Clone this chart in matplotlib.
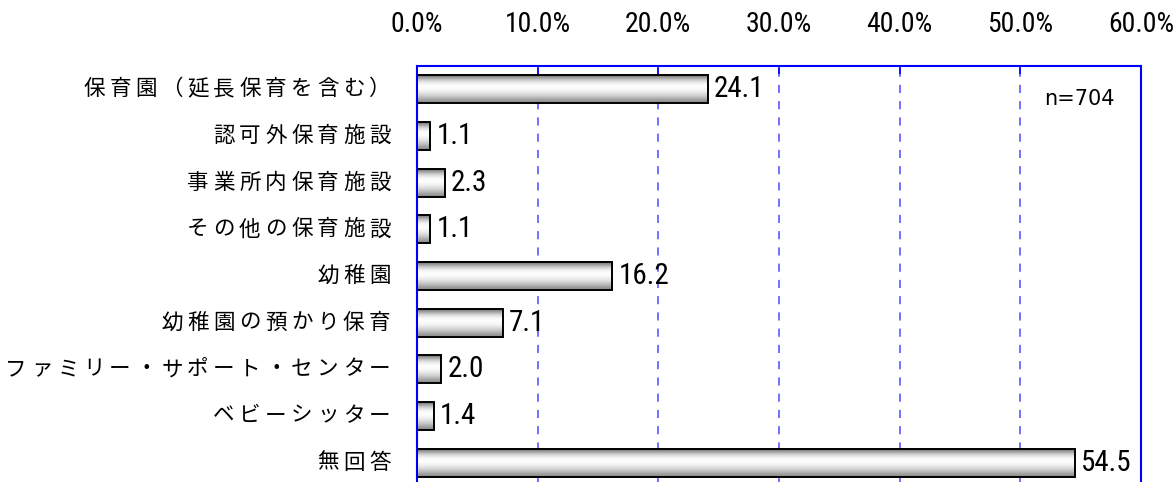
import numpy as np
import matplotlib
matplotlib.use("Agg")
import matplotlib.pyplot as plt
from matplotlib import font_manager

# 利用しているサービス（複数回答）
categories = [
    "保育園（延長保育を含む）",
    "認可外保育施設",
    "事業所内保育施設",
    "その他の保育施設",
    "幼稚園",
    "幼稚園の預かり保育",
    "ファミリー・サポート・センター",
    "ベビーシッター",
    "無回答",
]
values = [24.1, 1.1, 2.3, 1.1, 16.2, 7.1, 2.0, 1.4, 54.5]
xticks = [0, 10, 20, 30, 40, 50, 60]
xtick_labels = ["0.0%", "10.0%", "20.0%", "30.0%", "40.0%", "50.0%", "60.0%"]
n_label = "n=704"


def find_narrow():
    # 数字用に細身のフォントを探す
    cands = []
    for f in font_manager.fontManager.ttflist:
        fn = f.fname.lower()
        if ("narrow" in fn or "condensed" in fn) and "bold" not in fn \
                and "italic" not in fn and "oblique" not in fn and "light" not in fn:
            cands.append(f.fname)
    pref = ["liberationsansnarrow", "robotocondensed", "dejavusanscondensed", "opensans_condensed"]
    for p in pref:
        for c in cands:
            if p in c.lower().replace("-", "").replace("_", ""):
                return font_manager.FontProperties(fname=c)
    if cands:
        return font_manager.FontProperties(fname=sorted(cands)[0])
    return font_manager.FontProperties(family="DejaVu Sans", stretch="condensed")


narrow = find_narrow()
jp = ["Noto Sans CJK JP", "DejaVu Sans"]

fig = plt.figure(figsize=(11.74, 4.82), dpi=100)
ax = fig.add_axes([0.3552, -0.008, 0.6167, 0.871])

blue = "#0000ff"
grid_blue = "#6666ff"

y = np.arange(len(categories))
bar_h = 0.6
bars = ax.barh(y, values, height=bar_h, facecolor="none",
               edgecolor="black", linewidth=1.4, zorder=4)

# 縦方向のグラデーション（上下が濃く、中央やや上が白）
shade = np.array([0.5, 0.72, 0.88, 0.97, 1.0, 0.98, 0.93, 0.86, 0.77, 0.66, 0.55])
grad = np.dstack([shade, shade, shade]).reshape(len(shade), 1, 3)
for rect, yi, v in zip(bars, y, values):
    im = ax.imshow(grad, extent=[0, v, yi + bar_h / 2, yi - bar_h / 2],
                   aspect="auto", interpolation="bicubic", zorder=3)
    im.set_clip_path(rect)

ax.set_xlim(0, 60)
ax.set_ylim(len(categories) - 0.5, -0.5)

# 軸・目盛り
ax.xaxis.tick_top()
ax.set_xticks(xticks)
ax.set_xticklabels(xtick_labels)
for lab in ax.get_xticklabels():
    lab.set_fontproperties(narrow)
    lab.set_fontsize(20)
ax.tick_params(axis="x", direction="in", length=6, width=1.2, color=blue, pad=20)
ax.set_yticks([])
for side in ["left", "top", "right"]:
    ax.spines[side].set_color(blue)
    ax.spines[side].set_linewidth(1.5)
ax.spines["bottom"].set_visible(False)

for gx in xticks[1:-1]:
    ax.axvline(gx, color=grid_blue, linewidth=1.3, linestyle=(0, (4.5, 4.5)), zorder=1)

# 値ラベル
for yi, v in zip(y, values):
    ax.annotate(f"{v:.1f}", xy=(v, yi), xytext=(4.5, 0), textcoords="offset points",
                ha="left", va="center", fontproperties=narrow, fontsize=21, zorder=5)

# 項目ラベル（字間をあけて右揃え）
pitch = 18.7
for yi, label in zip(y, categories):
    for k, ch in enumerate(reversed(label)):
        ax.annotate(ch, xy=(0, yi), xycoords=("axes fraction", "data"),
                    xytext=(-17.5 - pitch * (k + 0.5), 0), textcoords="offset points",
                    ha="center", va="center", family=jp, fontsize=15.5, color="black")

ax.text(0.915, 0.922, n_label, transform=ax.transAxes, ha="center", va="center",
        fontsize=15, family="DejaVu Sans")

fig.savefig("out.png", dpi=100)
